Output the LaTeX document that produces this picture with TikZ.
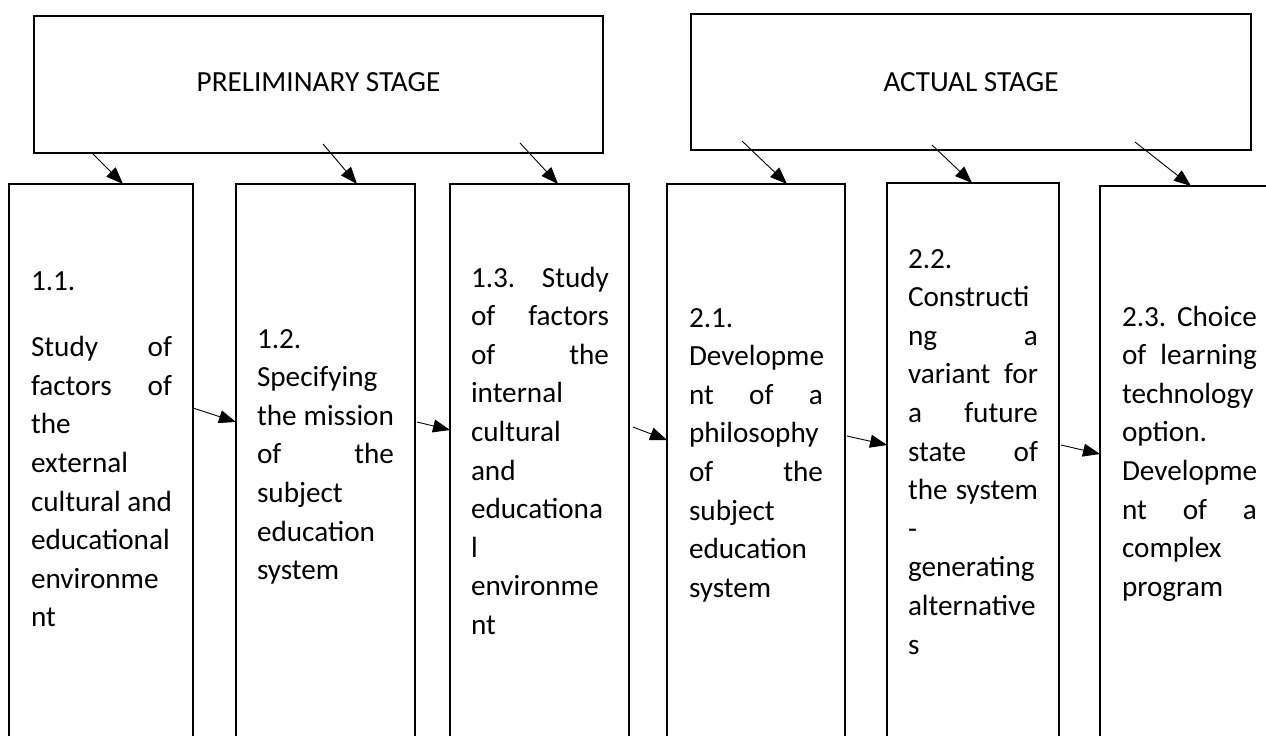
\documentclass[tikz,border=0pt]{standalone}
\usepackage{fontspec}
\setmainfont{Carlito}
\usetikzlibrary{arrows.meta,calc}
\begin{document}
\begin{tikzpicture}[x=1pt,y=-1pt,
  stage/.style={draw, line width=2pt, rectangle, inner sep=0, outer sep=0,
                font=\fontsize{29.2}{34}\selectfont},
  stepbox/.style={draw, line width=2pt, rectangle, anchor=north west,
                  inner sep=0, outer sep=0, minimum height=600},
  txt/.style={anchor=north west, inner sep=0, outer sep=0, align=left,
              font=\fontsize{29.2}{38.6}\selectfont},
  arr/.style={line width=0.9pt, -{Triangle[length=17pt,width=13pt]}}]
\useasboundingbox (0,0) rectangle (1266,736);
\clip (0,0) rectangle (1266,736);

% stage boxes
\node[stage, minimum width=569, minimum height=137, text depth=5pt] (P) at (318.5,84.5) {PRELIMINARY STAGE};
\node[stage, minimum width=560, minimum height=136] (A) at (971,82) {ACTUAL STAGE};

% step boxes
\node[stepbox, minimum width=184] (b1) at (9,184) {};
\node[stepbox, minimum width=179] (b2) at (236,184) {};
\node[stepbox, minimum width=179] (b3) at (450,184) {};
\node[stepbox, minimum width=178] (b4) at (667,184) {};
\node[stepbox, minimum width=172] (b5) at (887,183) {};
\node[stepbox, minimum width=200] (b6) at (1100,186) {};

% texts
\node[txt, text width=141] (t1) at (31,263) {\strut 1.1.\\[28pt]
Study\hfill of\\
factors\hfill of\\
the\\
external\\
cultural\hfill and\\
educational\\
environme\\
nt};

\node[txt, text width=137] (t2) at (257,321) {\strut 1.2.\\
Specifying\\
the\hfill mission\\
of\hfill the\\
subject\\
education\\
system};

\node[txt, text width=138] (t3) at (471,260) {\strut 1.3.\hfill Study\\
of\hfill factors\\
of\hfill the\\
internal\\
cultural\\
and\\
educationa\\
l\\
environme\\
nt};

\node[txt, text width=134] (t4) at (689,300) {\strut 2.1.\\
Developme\\
nt\hfill of\hfill a\\
philosophy\\
of\hfill the\\
subject\\
education\\
system};

\node[txt, text width=130] (t5) at (908,241) {\strut 2.2.\\
Constructi\\
ng\hfill a\\
variant\hfill for\\
a\hfill future\\
state\hfill of\\
the\hfill system\\
-\\
generating\\
alternative\\
s};

\node[txt, text width=135] (t6) at (1122,299) {\strut 2.3.\hfill Choice\\
of\hfill learning\\
technology\\
option.\\
Developme\\
nt\hfill of\hfill a\\
complex\\
program};

% arrow start points inside the stage boxes
\coordinate (s1) at ($(P.south west)+(58,0)$);
\coordinate (s2) at ($(P.south west)+(289,-9)$);
\coordinate (s3) at ($(P.south west)+(486,-10)$);
\coordinate (s4) at ($(A.south west)+(51,-9)$);
\coordinate (s5) at ($(A.south west)+(241,-5)$);
\coordinate (s6) at ($(A.south west)+(444,-8)$);

\draw[arr] (s1) -- ($(b1.north west)+(114,0)$);
\draw[arr] (s2) -- ($(b2.north west)+(121,0)$);
\draw[arr] (s3) -- ($(b3.north west)+(108,0)$);
\draw[arr] (s4) -- ($(b4.north west)+(120,0)$);
\draw[arr] (s5) -- ($(b5.north west)+(85,0)$);
\draw[arr] (s6) -- ($(b6.north west)+(91,0)$);

% horizontal connectors
\draw[arr] ($(b1.north east)+(0,224)$) -- ($(b2.north west)+(0,238)$);
\draw[arr] ($(b2.north east)+(2,238)$) -- ($(b3.north west)+(0,246)$);
\draw[arr] ($(b3.north east)+(4,243)$) -- ($(b4.north west)+(0,256)$);
\draw[arr] ($(b4.north east)+(2,252)$) -- ($(b5.north west)+(0,262)$);
\draw[arr] ($(b5.north east)+(2,262)$) -- ($(b6.north west)+(0,268)$);
\end{tikzpicture}
\end{document}
